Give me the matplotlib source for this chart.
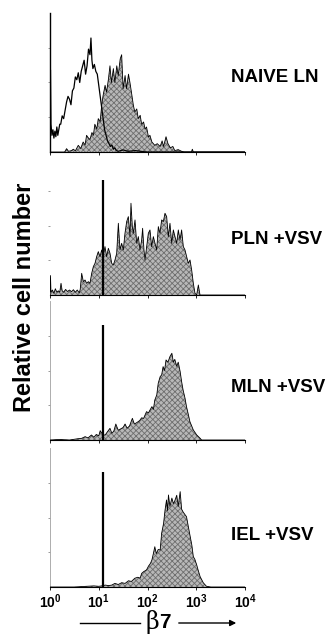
import matplotlib
matplotlib.use("Agg")
import matplotlib.pyplot as plt
import numpy as np

plt.rcParams['font.family'] = ['Liberation Sans', 'DejaVu Sans']
plt.rcParams['mathtext.fontset'] = 'custom'
plt.rcParams['mathtext.rm'] = 'Liberation Sans'
plt.rcParams['mathtext.default'] = 'regular'
plt.rcParams['hatch.linewidth'] = 0.6

# log10 de la fluorescencia y altura relativa (% del panel)
# NAIVE LN, histograma abierto (control)
naive_open_log = [0.00, 0.01, 0.02, 0.04, 0.06, 0.08, 0.10, 0.12, 0.14, 0.16, 0.18, 0.20, 0.22,
                  0.25, 0.28, 0.31, 0.34, 0.37, 0.40, 0.43, 0.46, 0.49, 0.52, 0.55, 0.58, 0.61,
                  0.64, 0.67, 0.70, 0.73, 0.76, 0.79, 0.82, 0.84, 0.86, 0.88, 0.91, 0.94, 0.97,
                  1.00, 1.03, 1.06, 1.09, 1.12, 1.15, 1.18, 1.21, 1.24, 1.27, 1.30, 1.33, 1.36,
                  1.40, 1.50, 1.60, 1.75, 1.90, 2.00, 4.00]
naive_open_val = [59, 59, 20, 12, 16, 10, 15, 11, 18, 12, 16, 20,
                  20, 26, 24, 30, 36, 40, 38, 34, 44, 46, 54, 52, 57, 50,
                  58, 62, 66, 56, 62, 74, 70, 82, 66, 60, 63, 58, 56,
                  48, 40, 32, 24, 16, 12, 8, 6, 4, 5, 2, 3, 1,
                  0.5, 1.5, 0.5, 1.0, 0.3, 0, 0]

# NAIVE LN, beta7
naive_log = [0.00, 0.30, 0.34, 0.38, 0.44, 0.48, 0.52, 0.58, 0.63, 0.68, 0.72, 0.75, 0.79,
             0.82, 0.86, 0.89, 0.92, 0.96, 0.99, 1.03, 1.06, 1.09, 1.13, 1.16, 1.20, 1.23,
             1.26, 1.30, 1.33, 1.37, 1.40, 1.44, 1.47, 1.50, 1.54, 1.57, 1.61, 1.64, 1.68,
             1.71, 1.74, 1.78, 1.81, 1.85, 1.88, 1.92, 1.95, 1.98, 2.02, 2.05, 2.09, 2.15,
             2.20, 2.26, 2.30, 2.33, 2.38, 2.42, 2.47, 2.52, 2.56, 2.63, 2.70, 2.75, 2.90,
             2.92, 2.94, 4.00]
naive_val = [0, 0, 2.4, 0.5, 1.0, 2.0, 0.8, 4.8, 2.5, 7.2, 5, 12, 10,
             9, 14, 12, 20, 16.5, 24, 22, 33.6, 40.8, 48, 43, 52.8, 62,
             50, 60, 50, 62, 55, 67, 70, 45.6, 55, 45.6, 56, 50, 40.8,
             33.6, 28.8, 31, 24, 26.4, 20, 21.6, 16.5, 18, 10.8, 12, 7.2, 4.8,
             6, 4, 8, 4, 11, 6, 3, 4, 1, 1.7, 0.5, 0, 0,
             2, 0, 0]

# PLN +VSV
pln_log = [0.00, 0.01, 0.02, 0.05, 0.08, 0.11, 0.14, 0.17, 0.20, 0.226, 0.25, 0.28, 0.32,
           0.36, 0.40, 0.44, 0.48, 0.52, 0.56, 0.60, 0.62, 0.65, 0.684, 0.718, 0.752, 0.786,
           0.82, 0.855, 0.889, 0.923, 0.957, 0.991, 1.026, 1.06, 1.09, 1.115, 1.128, 1.162,
           1.197, 1.231, 1.265, 1.299, 1.333, 1.368, 1.402, 1.436, 1.47, 1.504, 1.538, 1.573,
           1.607, 1.641, 1.661, 1.689, 1.709, 1.744, 1.778, 1.812, 1.846, 1.88, 1.90, 1.928,
           1.949, 1.983, 2.017, 2.051, 2.085, 2.12, 2.154, 2.188, 2.222, 2.256, 2.29, 2.325,
           2.359, 2.393, 2.427, 2.461, 2.496, 2.53, 2.564, 2.598, 2.632, 2.667, 2.70, 2.735,
           2.769, 2.803, 2.837, 2.872, 2.906, 2.94, 2.974, 3.008, 3.043, 3.077, 4.00]
pln_val = [0, 14, 2, 3.6, 1.2, 4.5, 2.0, 3.0, 2.0, 8.4, 3.0, 2.0, 4.0,
           2.5, 3.6, 2.4, 3.8, 2.0, 3.6, 1.5, 4.0, 15.6, 9.6, 10.8, 8.4, 9.6,
           8.4, 15.6, 20.4, 22.8, 27.6, 31.2, 27.6, 32.4, 28, 32.4, 34.8, 27.6,
           33.6, 30, 22.8, 21.6, 25.2, 30, 51.6, 32.4, 37.2, 32.4, 44.4, 52.8,
           56.4, 42, 66, 49.2, 44.4, 54, 37.2, 42, 32.4, 39.6, 48, 32.4,
           25.2, 34.8, 44.4, 46.8, 34.8, 42, 37.2, 32.4, 49.2, 44.4, 54, 52.8,
           58.8, 56.4, 42, 51.6, 37.2, 46.8, 42, 37.2, 46.8, 39.6, 46.8, 34.8,
           32.4, 27.6, 22.8, 25.2, 18, 8.4, 1.2, 0, 7.2, 0, 0]

# MLN +VSV
mln_log = [0.00, 0.20, 0.40, 0.55, 0.65, 0.72, 0.78, 0.85, 0.90, 0.95, 1.00, 1.03, 1.08,
           1.13, 1.18, 1.23, 1.27, 1.31, 1.35, 1.40, 1.45, 1.50, 1.54, 1.58, 1.63, 1.69,
           1.73, 1.78, 1.84, 1.88, 1.92, 1.95, 1.98, 2.02, 2.05, 2.09, 2.12, 2.15, 2.19,
           2.22, 2.26, 2.29, 2.32, 2.35, 2.38, 2.42, 2.46, 2.50, 2.53, 2.56, 2.60, 2.63,
           2.67, 2.70, 2.73, 2.77, 2.80, 2.84, 2.87, 2.94, 3.01, 3.08, 3.11, 4.00]
mln_val = [0, 0.4, 0, 0.8, 1.2, 2.4, 1.5, 3.6, 2.0, 4.0, 3.0, 6.7, 4.0,
           3.5, 6.0, 8.4, 4.8, 6.5, 11.5, 7.0, 8.0, 9.0, 11.5, 8.5, 10, 15.6,
           11.5, 12.5, 14, 16, 15.5, 18, 20.4, 19.5, 21.5, 24, 22, 28.8, 32.4,
           40.8, 45.6, 46.8, 52.8, 50, 57.6, 56, 60, 62.4, 56, 58, 53, 56,
           49.2, 42, 36, 30, 24, 18, 13.2, 7.2, 3.6, 1.2, 0, 0]

# IEL +VSV
iel_log = [0.00, 0.50, 0.90, 1.00, 1.10, 1.13, 1.20, 1.27, 1.33, 1.40, 1.47, 1.54, 1.61,
           1.67, 1.74, 1.80, 1.85, 1.88, 1.92, 1.98, 2.02, 2.06, 2.09, 2.12, 2.15, 2.18,
           2.22, 2.26, 2.29, 2.33, 2.36, 2.39, 2.41, 2.43, 2.46, 2.50, 2.53, 2.56, 2.60,
           2.63, 2.67, 2.70, 2.73, 2.77, 2.80, 2.84, 2.87, 2.91, 2.94, 2.97, 3.01, 3.04,
           3.08, 3.145, 3.21, 3.30, 4.00]
iel_val = [0, 0, 0.8, 0.5, 1.0, 1.4, 1.0, 1.4, 2.6, 1.8, 3.1, 2.6, 4.5,
           4.0, 6.3, 7.0, 6.4, 9.8, 11, 12.3, 15, 17, 19.4, 24, 29, 24,
           27, 26.6, 38.6, 45.8, 55.4, 62.6, 55, 66.2, 58, 64, 60, 62, 66,
           58, 68.6, 56, 54, 52, 50.6, 43, 37.4, 30, 21.8, 20, 15.8, 12,
           7.4, 3, 0.5, 0, 0]

# linea vertical del control negativo
ctrl_log = 1.09
ctrl_height = 83

panel_names = ['NAIVE LN', 'PLN +VSV', 'MLN +VSV', 'IEL +VSV']
curves_log = [naive_log, pln_log, mln_log, iel_log]
curves_val = [naive_val, pln_val, mln_val, iel_val]

fig = plt.figure(figsize=(3.28, 6.34), dpi=100)

bottoms = [482, 339, 194, 47]
label_y = [78, 240, 388, 535]
spine_left = [('black', 1.0), (None, 0), ('#a0a0a0', 0.6), ('#a0a0a0', 0.6)]

for i in range(4):
    ax = fig.add_axes([50 / 328, bottoms[i] / 634, 195 / 328, 139 / 634])
    x = 10 ** np.array(curves_log[i])
    y = np.array(curves_val[i])
    ax.fill_between(x, 0, y, facecolor='#b8b8b8', edgecolor='#6e6e6e',
                    hatch='xxxxxx', linewidth=0, zorder=2)
    ax.plot(x, y, color='black', lw=0.6, zorder=3)
    if i == 0:
        ax.plot(10 ** np.array(naive_open_log), naive_open_val, color='black', lw=0.9, zorder=4)
    else:
        ax.vlines(10 ** ctrl_log, 0, ctrl_height, color='black', lw=1.6, zorder=5)

    ax.set_xscale('log')
    ax.set_xlim(1, 1e4)
    ax.set_ylim(0, 100)
    ax.set_facecolor('none')

    for s in ['top', 'right']:
        ax.spines[s].set_visible(False)
    c, lw = spine_left[i]
    if c is None:
        ax.spines['left'].set_visible(False)
    else:
        ax.spines['left'].set_color(c)
        ax.spines['left'].set_linewidth(lw)
    ax.spines['bottom'].set_linewidth(0.8)

    ax.set_yticks([25, 50, 75])
    ax.set_yticklabels([])
    ax.tick_params(axis='y', length=1.2, width=0.6, color='#8a8a8a')
    ax.tick_params(axis='x', which='major', length=2, width=0.6, pad=2)
    ax.tick_params(axis='x', which='minor', length=1, width=0.4)
    ax.set_xticks([1, 10, 100, 1000, 10000])
    if i == 3:
        ax.set_xticklabels(['10$^{%d}$' % k for k in range(5)],
                           fontsize=10, fontweight='bold')
    else:
        ax.set_xticklabels([])

    fig.text(231 / 328, 1 - label_y[i] / 634, panel_names[i], fontsize=13.5,
             fontweight='bold', ha='left', va='center')

fig.text(25 / 328, 1 - 297 / 634, 'Relative cell number', rotation=90,
         fontsize=17, fontweight='bold', ha='center', va='center')

# etiqueta del eje x con flecha
fig.text(152, 12, '\u03b2', fontsize=17, family='DejaVu Serif',
         ha='center', va='center', transform=None)
fig.text(165, 12, '7', fontsize=15, fontweight='bold',
         ha='center', va='center', transform=None)
fig.add_artist(plt.Line2D([80 / 328, 140 / 328], [11 / 634, 11 / 634],
                          color='black', lw=1.0, transform=fig.transFigure))
fig.add_artist(matplotlib.patches.FancyArrowPatch((176 / 328, 11 / 634), (239 / 328, 11 / 634),
                                                  arrowstyle='-|>', mutation_scale=9,
                                                  color='black', lw=1.0,
                                                  transform=fig.transFigure))

fig.savefig('out.png', dpi=100)
